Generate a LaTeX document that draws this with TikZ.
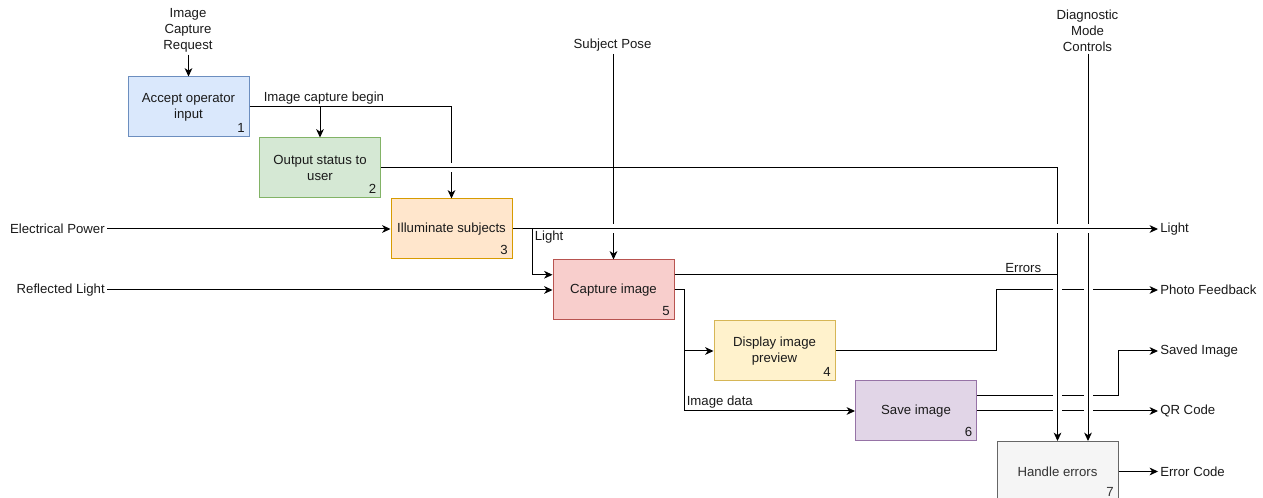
\documentclass[tikz,border=0pt]{standalone}
\usepackage{fontspec}
\setmainfont{Liberation Sans}
\usetikzlibrary{arrows.meta,calc}
\definecolor{bluef}{HTML}{DAE8FC}\definecolor{blued}{HTML}{6C8EBF}
\definecolor{greenf}{HTML}{D5E8D4}\definecolor{greend}{HTML}{82B366}
\definecolor{orangef}{HTML}{FFE6CC}\definecolor{oranged}{HTML}{D79B00}
\definecolor{redf}{HTML}{F8CECC}\definecolor{redd}{HTML}{B85450}
\definecolor{yellowf}{HTML}{FFF2CC}\definecolor{yellowd}{HTML}{D6B656}
\definecolor{purplef}{HTML}{E1D5E7}\definecolor{purpled}{HTML}{9673A6}
\definecolor{grayf}{HTML}{F5F5F5}\definecolor{grayd}{HTML}{666666}
\definecolor{grayt}{HTML}{333333}
\definecolor{txt}{HTML}{1A1A1A}
\newcommand\gapV[1]{\fill[white] ($(#1)+(-2,-4.5)$) rectangle ($(#1)+(2,4.5)$);}
\newcommand\gapH[1]{\fill[white] ($(#1)+(-4.5,-2)$) rectangle ($(#1)+(4.5,2)$);}
\begin{document}
\begin{tikzpicture}[x=0.75pt,y=-0.75pt,
  font=\fontsize{9.9}{12}\selectfont, text=txt,
  box/.style={draw, line width=0.75pt, minimum width=90.75pt, minimum height=45pt,
    align=center, inner sep=0pt},
  numlbl/.style={anchor=south east, inner xsep=3.4pt, inner ysep=3.6pt},
  conn/.style={line width=0.75pt, draw=black},
  arr/.style={conn, -{Stealth[length=6.3pt,width=5.8pt,inset=1.9pt]}},
  lbl/.style={inner sep=1.5pt, align=center}]
\useasboundingbox (0,0) rectangle (1263,498);

% boxes
\node[box, fill=bluef, draw=blued, label={[numlbl]south east:1}] (n1) at (188.5,107) {Accept operator\\input};
\node[box, fill=greenf, draw=greend, label={[numlbl]south east:2}] (n2) at (320,168) {Output status to\\user};
\node[box, fill=orangef, draw=oranged, label={[numlbl]south east:3}] (n3) at (451.5,229) {Illuminate subjects};
\node[box, fill=redf, draw=redd, label={[numlbl]south east:5}] (n5) at (613.5,290) {Capture image};
\node[box, fill=yellowf, draw=yellowd, label={[numlbl]south east:4}] (n4) at (774.5,351) {Display image\\preview};
\node[box, fill=purplef, draw=purpled, label={[numlbl]south east:6}] (n6) at (916,411) {Save image};
\node[box, fill=grayf, draw=grayd, text=grayt, label={[numlbl, text=grayt]south east:7}] (n7) at (1057.5,471.5) {Handle errors};

% external labels
\node[lbl] (icr) at (188,30.5) {Image\\Capture\\Request};
\node[lbl] (sp) at (612.5,45.5) {Subject Pose};
\node[lbl] (dmc) at (1087.5,30.5) {Diagnostic\\Mode\\Controls};
\node[lbl, anchor=east] (oep) at (107,229) {Electrical Power};
\node[lbl, anchor=east] (orl) at (107,290) {Reflected Light};
\node[lbl, anchor=west] (olight) at (1158,229) {Light};
\node[lbl, anchor=west] (opf) at (1158,290) {Photo Feedback};
\node[lbl, anchor=west] (osi) at (1158,351) {Saved Image};
\node[lbl, anchor=west] (oqr) at (1158,411) {QR Code};
\node[lbl, anchor=west] (oec) at (1158,471.5) {Error Code};

% helper coordinates
\coordinate (e5a) at ($(n5.north east)!0.25!(n5.south east)$);
\coordinate (w5a) at ($(n5.north west)!0.25!(n5.south west)$);
\coordinate (e6a) at ($(n6.north east)!0.25!(n6.south east)$);
\coordinate (n7tq) at ($(n7.north west)!0.75!(n7.north east)$);
\coordinate (lbr) at ($(n3.east)+(20,0)$);
\coordinate (idc) at ($(n5.east)+(10,0)$);
\coordinate (x1) at (n3.north |- n2.east);
\coordinate (x2) at (n5.north |- n3.east);
\coordinate (x3) at (n7.north |- opf.west);
\coordinate (x4) at (n7tq |- opf.west);
\coordinate (x5) at (n7.north |- e6a);
\coordinate (x6) at (n7tq |- e6a);
\coordinate (x7) at (n7.north |- oqr.west);
\coordinate (x8) at (n7tq |- oqr.west);
\coordinate (x9) at (n7.north |- n3.east);
\coordinate (x10) at (n7tq |- n3.east);

% group A: lines that pass under others
\draw[arr] (icr.south -| n1.north) -- (n1.north);
\draw[arr] (n1.east) -| (n3.north);
\node[lbl, anchor=south west] (lcb) at ($(n1.east)+(12,0)$) {Image capture begin};
\draw[arr] (n2.north |- n1.east) -- (n2.north);
\draw[arr] (sp.south -| n5.north) -- (n5.north);
\draw[arr] (oep.east) -- (n3.west);
\draw[arr] (orl.east) -- (n5.west);
\draw[arr] (n4.east) -- (n4.east -| n7.west) |- (opf.west);
\draw[arr] (e6a) -- (e6a -| n7.east) |- (osi.west);
\draw[arr] (n6.east) -- (oqr.west);
\draw[arr] (n5.east) -- (idc) |- (n4.west);
\draw[arr] (n5.east) -- (idc) |- (n6.west);
\node[lbl, anchor=south west] (lid) at (idc |- n6.west) {Image data};
\draw[arr] (n7.east) -- (oec.west);
\gapV{x1}\gapV{x2}
\gapH{x3}\gapH{x4}\gapH{x5}\gapH{x6}\gapH{x7}\gapH{x8}

% group B
\draw[arr] (n2.east) -| (n7.north);
\draw[conn] (e5a) -- (e5a -| n7.north);
\node[lbl, anchor=south east, xshift=-10.5pt] (lerr) at (e5a -| n7.north) {Errors};
\draw[arr] (dmc.south -| n7tq) -- (n7tq);
\gapV{x9}\gapV{x10}

% group C
\draw[arr] (n3.east) -- (olight.west);
\draw[arr] (lbr) |- (w5a);
\node[lbl, anchor=north west] (llight) at (lbr) {Light};
\end{tikzpicture}
\end{document}
